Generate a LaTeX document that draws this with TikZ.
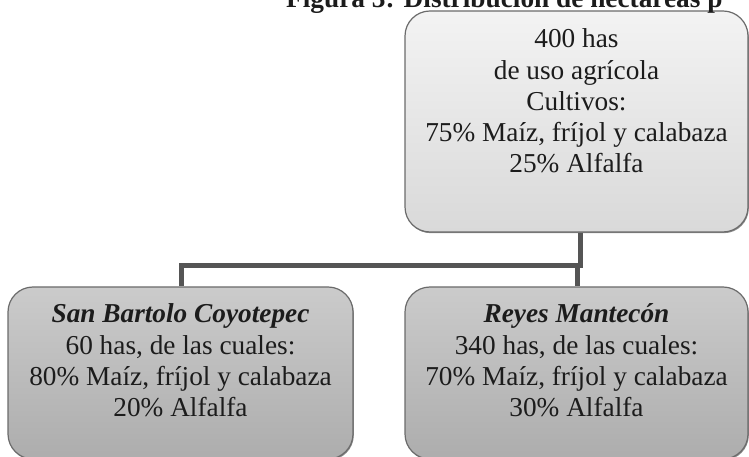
\documentclass[tikz,border=0pt]{standalone}
\usepackage{fontspec}
\setmainfont{Liberation Serif}
\definecolor{topA}{HTML}{F3F3F3}
\definecolor{topB}{HTML}{D9D9D9}
\definecolor{botA}{HTML}{CBCBCB}
\definecolor{botB}{HTML}{ADADAD}
\definecolor{boxline}{HTML}{6B6B6B}
\definecolor{connc}{HTML}{555555}
\definecolor{txtc}{HTML}{1C1C1C}
\begin{document}
\begin{tikzpicture}[x=1pt,y=1pt]
\tikzset{
  shadowed/.style={preaction={fill=black!45,transform canvas={xshift=0.8pt,yshift=-1.2pt}}},
  lvlone/.style={shadowed,draw=boxline,line width=1.2pt,rounded corners=25pt,top color=topA,bottom color=topB,minimum width=343pt,minimum height=221pt,inner sep=0pt},
  lvltwo/.style={shadowed,draw=boxline,line width=1.2pt,rounded corners=25pt,top color=botA,bottom color=botB,minimum height=172pt,inner sep=0pt},
  txt/.style={anchor=base,inner sep=0pt,font=\fontsize{27.3}{31.25}\selectfont,text=txtc},
  conn/.style={draw=connc,line width=5pt}
}
\useasboundingbox (0,0) rectangle (749,457);
\node[lvlone] (top) at (576.5,335.5) {};
\node[lvltwo,minimum width=345pt] (sbc) at (180.5,84) {};
\node[lvltwo,minimum width=343pt] (rm) at (576.5,84) {};

\draw[conn] ([xshift=4pt]top.south) -- ++(0,-32.5) -| ([xshift=1pt]sbc.north);
\draw[conn] ([xshift=0.5pt]rm.north) ++(0,22.5) -- ([xshift=0.5pt]rm.north);

\node[txt] (toptxt) at (576.5,409) {\begin{tabular}[t]{@{}c@{}}400 has\\de uso agrícola\\Cultivos:\\75\% Maíz, fríjol y calabaza\\25\% Alfalfa\end{tabular}};
\node[txt] (sbctxt) at (180.5,134) {\begin{tabular}[t]{@{}c@{}}\textbf{\textit{San Bartolo Coyotepec}}\\60 has, de las cuales:\\80\% Maíz, fríjol y calabaza\\20\% Alfalfa\end{tabular}};
\node[txt] (rmtxt) at (576.5,134) {\begin{tabular}[t]{@{}c@{}}\textbf{\textit{Reyes Mantecón}}\\340 has, de las cuales:\\70\% Maíz, fríjol y calabaza\\30\% Alfalfa\end{tabular}};

\node[anchor=base west,inner sep=0pt,font=\fontsize{27.3}{31.25}\selectfont\bfseries,text=txtc] (title) at (286,449) {Figura 3: Distribución de hectáreas p};
\end{tikzpicture}
\end{document}
